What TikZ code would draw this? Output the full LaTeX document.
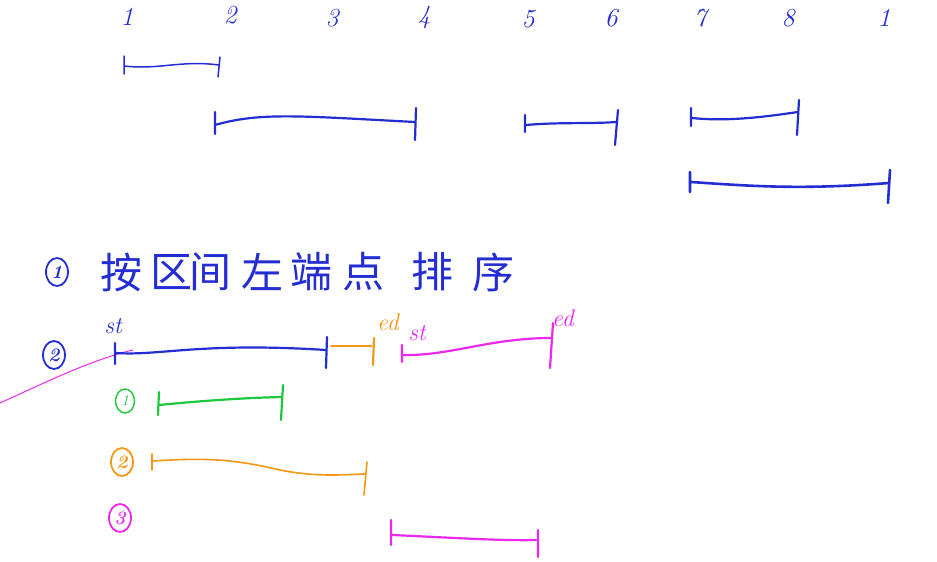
\documentclass[tikz,border=0pt]{standalone}
\usepackage{fontspec}
\newfontfamily\cjk{Noto Sans CJK SC}
\definecolor{hb}{RGB}{35,45,210}
\definecolor{hg}{RGB}{30,200,60}
\definecolor{ho}{RGB}{245,150,20}
\definecolor{hm}{RGB}{235,40,235}
\tikzset{
  pen/.style={line width=2.2pt,line cap=round,line join=round},
  thin pen/.style={line width=1pt,line cap=round},
  num/.style={font=\fontsize{26}{26}\selectfont\itshape,text=hb,inner sep=0pt},
  han/.style={font=\cjk\fontsize{42}{42}\selectfont,text=hb,inner sep=0pt},
  lab/.style={font=\fontsize{24}{24}\selectfont\itshape,inner sep=0pt},
  circ/.style={ellipse,draw=#1,text=#1,line width=1.8pt,inner sep=0pt,minimum width=22pt,minimum height=28pt,font=\fontsize{19}{19}\selectfont\bfseries\itshape}
}
\usetikzlibrary{shapes.geometric}
\begin{document}
\begin{tikzpicture}[x=1pt,y=-1pt]
\useasboundingbox (0,0) rectangle (937,562);
% top numbers
\node[num] (n1) at (127,17) {1};
\node[num] (n2) at (230,15) {2};
\node[num] (n3) at (332,18) {3};
\node[num] (n4) at (424,17) {4};
\node[num] (n5) at (528,19) {5};
\node[num] (n6) at (611,18) {6};
\node[num] (n7) at (700,18) {7};
\node[num] (n8) at (788,18) {8};
\node[num] (n9) at (884,18) {1};
% row 1 intervals
\draw[pen,hb,line width=1.5pt] (124,56) -- (124,74) (124,66) .. controls (160,70) and (180,60) .. (219,65) (220,57) -- (218,77);
\draw[pen,hb] (215,112) -- (215,134) (215,125) .. controls (260,112) and (300,116) .. (415,122) (416,108) -- (415,140);
\draw[pen,hb] (525,115) -- (525,132) (526,125) .. controls (560,122) and (590,124) .. (616,122) (618,110) -- (615,145);
\draw[pen,hb] (691,108) -- (691,126) (692,118) .. controls (730,122) and (770,116) .. (798,112) (799,100) -- (797,135);
\draw[pen,hb,line width=2.6pt] (690,172) -- (690,192) (691,182) .. controls (750,186) and (800,190) .. (889,183) (890,170) -- (888,203);
% step 1
\node[circ=hb] (c1) at (57,272) {1};
\node[han] (h1) at (121,272) {按};
\node[han] (h2) at (171,272) {区};
\node[han] (h3) at (210,272) {间};
\node[han] (h4) at (262,272) {左};
\node[han] (h5) at (311,272) {端};
\node[han] (h6) at (363,272) {点};
\node[han] (h7) at (432,272) {排};
\node[han] (h8) at (493,272) {序};
% step 2
\node[circ=hb] (c2) at (54,355) {2};
\node[lab,text=hb] (st1) at (113,326) {st};
\node[lab,text=ho] (ed1) at (388,322) {ed};
\node[lab,text=hm] (st2) at (417,333) {st};
\node[lab,text=hm] (ed2) at (563,318) {ed};
\coordinate (m0) at (0,403);
\coordinate (m1) at (133,350);
\draw[hm,thin pen] (m0) .. controls (40,385) and (90,360) .. (m1);
\draw[pen,hb] (115,343) -- (115,364) (116,353) .. controls (160,356) and (200,342) .. (326,350) (327,337) -- (326,368);
\draw[pen,ho,line width=1.3pt] (331,346) -- (372,346);
\draw[pen,ho] (374,338) -- (373,365);
\draw[pen,hm] (402,345) -- (402,362) (403,355) .. controls (450,356) and (490,338) .. (551,338) (553,323) -- (550,368);
% sub rows
\node[circ=hg,minimum width=19pt,minimum height=24pt,line width=1.4pt,font=\fontsize{15}{15}\selectfont\itshape] (g1) at (125,401) {1};
\draw[pen,hg] (159,392) -- (158,415) (159,405) .. controls (200,401) and (240,398) .. (282,397) (283,385) -- (281,420);
\node[circ=ho] (o2) at (122,462) {2};
\draw[pen,ho,line width=1.6pt] (152,454) -- (152,470) (153,461) .. controls (200,458) and (230,458) .. (280,470) .. controls (320,478) and (350,474) .. (365,474) (367,462) -- (364,495);
\node[circ=hm] (m3) at (120,518) {3};
\draw[pen,hm] (391,520) -- (391,545) (392,535) .. controls (440,537) and (500,541) .. (536,540) (538,530) -- (538,557);
\end{tikzpicture}
\end{document}
